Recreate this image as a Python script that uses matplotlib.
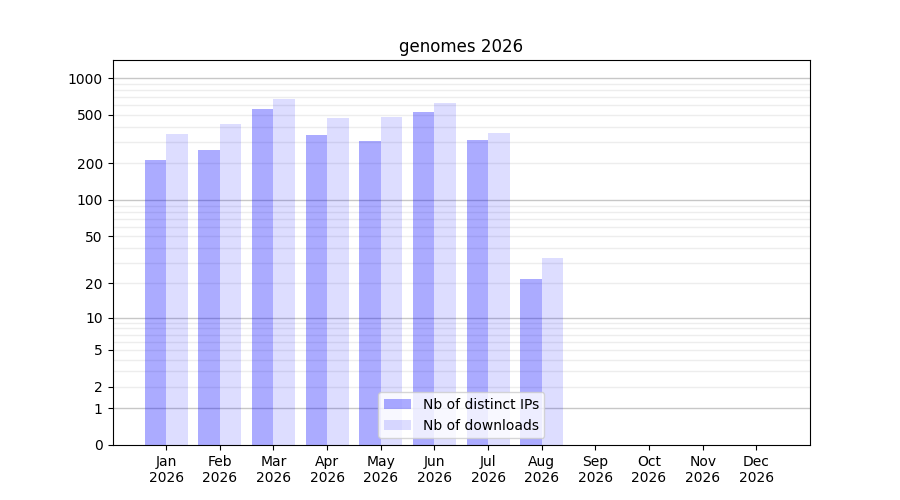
import matplotlib
matplotlib.use('Agg')
import matplotlib.pyplot as plt
import numpy as np

months = ['Jan', 'Feb', 'Mar', 'Apr', 'May', 'Jun', 'Jul', 'Aug', 'Sep', 'Oct', 'Nov', 'Dec']
year = 2026
distinct_ips = [214, 258, 561, 343, 306, 530, 312, 22, 0, 0, 0, 0]
downloads = [350, 423, 677, 473, 482, 629, 356, 33, 0, 0, 0, 0]
ytick_values = [0, 1, 2, 5, 10, 20, 50, 100, 200, 500, 1000]


def forward(v):
    return np.log10(1 + np.maximum(v, 0))


def inverse(v):
    return 10**v - 1


fig, ax = plt.subplots(figsize=(9, 5), dpi=100)
ax.set_yscale('function', functions=(forward, inverse))

# grid lines by hand: decades darker, the rest lighter
for dec in [1, 10, 100, 1000]:
    ax.axhline(dec, color='0.78', linewidth=1, zorder=0)
    for k in range(2, 10):
        ax.axhline(dec * k, color='0.93', linewidth=1, zorder=0)

x = np.arange(len(months))
ax.bar(x - 0.2, distinct_ips, width=0.4, color='blue', alpha=0.33, label='Nb of distinct IPs', zorder=2)
ax.bar(x + 0.2, downloads, width=0.4, color='blue', alpha=0.135, label='Nb of downloads', zorder=2)

ax.set_xlim(-1, 12)
ax.set_ylim(0, 1410)
ax.set_xticks(x)
ax.set_xticklabels([m + '\n' + str(year) for m in months])
ax.set_yticks(ytick_values)
ax.set_yticklabels([str(v) for v in ytick_values])
ax.minorticks_off()
ax.set_title('genomes ' + str(year))
ax.legend(loc='lower center')

fig.savefig('out.png')
